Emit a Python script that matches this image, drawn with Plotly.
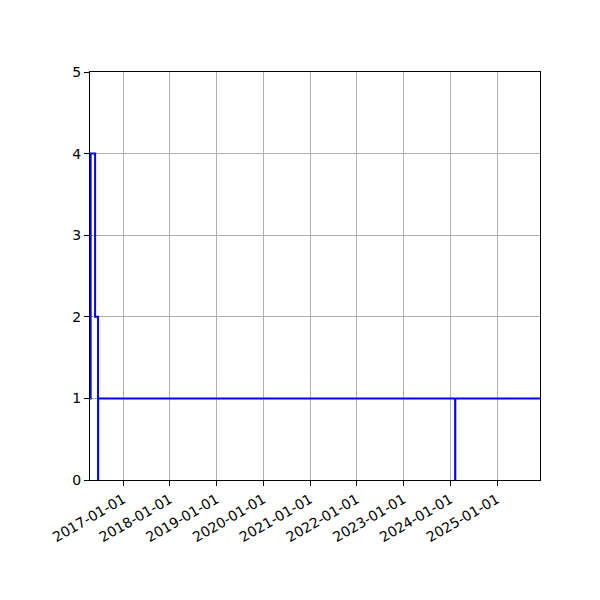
import plotly.graph_objects as go

# step series
fechas = ["2016-04-18", "2016-04-22", "2016-05-27", "2016-06-19", "2016-06-20",
          "2024-02-09", "2024-02-10", "2025-12-03"]
valores = [1, 4, 2, 0, 1, 0, 1, 1]

x_inicio = "2016-04-17"
x_fin = "2025-12-03"
y_ticks = [0, 1, 2, 3, 4, 5]

fig = go.Figure()
fig.add_trace(go.Scatter(
    x=fechas, y=valores, mode="lines", line_shape="hv",
    line=dict(color="blue", width=2), showlegend=False
))

fig.update_layout(
    width=600, height=600,
    margin=dict(l=82, r=68, t=64, b=128),
    plot_bgcolor="white", paper_bgcolor="white",
    font=dict(family="DejaVu Sans", size=14, color="black"),
)
fig.update_xaxes(
    range=[x_inicio, x_fin], type="date",
    tick0="2017-01-01", dtick="M12", tickformat="%Y-%m-%d", tickangle=-30,
    showgrid=True, gridcolor="#b0b0b0", gridwidth=1,
    showline=True, linecolor="black", linewidth=1, mirror=True,
    ticks="outside", ticklen=5, tickcolor="black", zeroline=False,
)
fig.update_yaxes(
    range=[0, 5], tickvals=y_ticks,
    showgrid=True, gridcolor="#b0b0b0", gridwidth=1,
    showline=True, linecolor="black", linewidth=1, mirror=True,
    ticks="outside", ticklen=5, tickcolor="black", zeroline=False,
)

fig.write_html("out.html")
